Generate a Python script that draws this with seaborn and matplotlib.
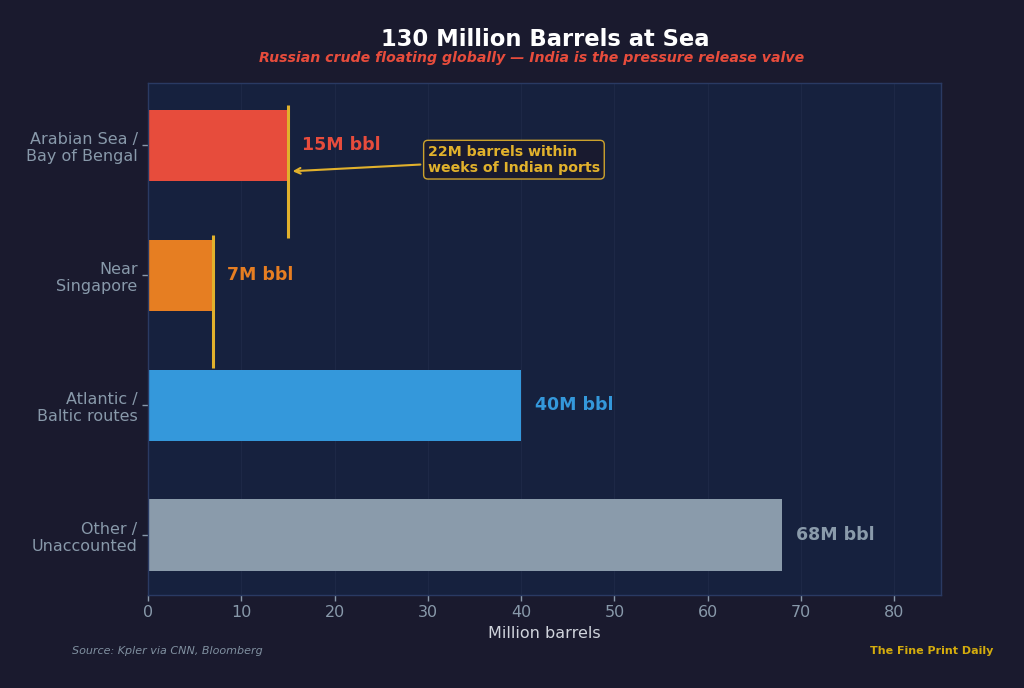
import matplotlib as mpl
mpl.use("Agg")
import matplotlib.pyplot as plt
import seaborn as sns
import pandas as pd

regions = ["Arabian Sea /\nBay of Bengal", "Near\nSingapore", "Atlantic /\nBaltic routes", "Other /\nUnaccounted"]
barrels = [15, 7, 40, 68]
colors = ["#e74c3c", "#e67e22", "#3498db", "#8a9bab"]
india_nearby = [15, 7]

bg_fig = "#1a1a2e"
bg_ax = "#16213e"
gold = "#e1b12c"

sns.set_theme(style="dark")
plt.rcParams["font.family"] = ["DejaVu Sans"]

df = pd.DataFrame({"region": regions, "barrels": barrels})

fig = plt.figure(figsize=(10.24, 6.88), dpi=100, facecolor=bg_fig)
ax = fig.add_axes([148 / 1024, 1 - 595 / 688, (941 - 148) / 1024, (595 - 83) / 688])
ax.set_facecolor(bg_ax)

sns.barplot(data=df, y="region", x="barrels", hue="region", palette=colors,
            orient="h", width=0.55, legend=False, ax=ax, saturation=1,
            linewidth=0, edgecolor="none")

for i, v in enumerate(barrels):
    ax.text(v + 1.5, i, f"{v}M bbl", color=colors[i], fontsize=12.5,
            fontweight="bold", va="center", ha="left")

for i, v in enumerate(india_nearby):
    ax.vlines(v, i - 0.31, i + 0.715, color=gold, linewidth=2.2, zorder=4)

ax.annotate("22M barrels within\nweeks of Indian ports", xy=(15.2, 0.2), xytext=(30, 0.11),
            color=gold, fontsize=10.2, fontweight="bold", va="center", ha="left",
            arrowprops=dict(arrowstyle="->", color=gold, lw=1.5),
            bbox=dict(boxstyle="round,pad=0.3", fc=bg_fig, ec=gold, lw=1, alpha=0.9))

ax.set_xlim(0, 85)
ax.set_ylim(3.46, -0.48)
ax.set_xticks(range(0, 90, 10))
ax.grid(axis="x", color="#25304f", linewidth=0.8, alpha=0.5)
ax.grid(axis="y", visible=False)
for s in ax.spines.values():
    s.set_color("#2a3a63")
    s.set_linewidth(1)

ax.tick_params(axis="both", which="major", direction="out", colors="#8899aa",
               labelsize=11.5, length=4, width=1, bottom=True, left=True)
ax.set_ylabel("")
ax.set_xlabel("Million barrels", color="#d0d4dc", fontsize=11.5)

fig.text(545 / 1024, 1 - 40 / 688, "130 Million Barrels at Sea", color="white", fontsize=16.3,
         fontweight="bold", ha="center", va="center")
fig.text(532 / 1024, 1 - 58 / 688, "Russian crude floating globally \u2014 India is the pressure release valve",
         color="#e74c3c", fontsize=10.2, fontstyle="italic", fontweight="bold", ha="center", va="center")
fig.text(72 / 1024, 1 - 651 / 688, "Source: Kpler via CNN, Bloomberg", color="#8090a0",
         fontsize=8, fontstyle="italic", ha="left", va="center")
fig.text(993 / 1024, 1 - 651 / 688, "The Fine Print Daily", color="#d4ac0d",
         fontsize=8, fontweight="bold", ha="right", va="center")

fig.savefig("out.png", dpi=100, facecolor=bg_fig)
